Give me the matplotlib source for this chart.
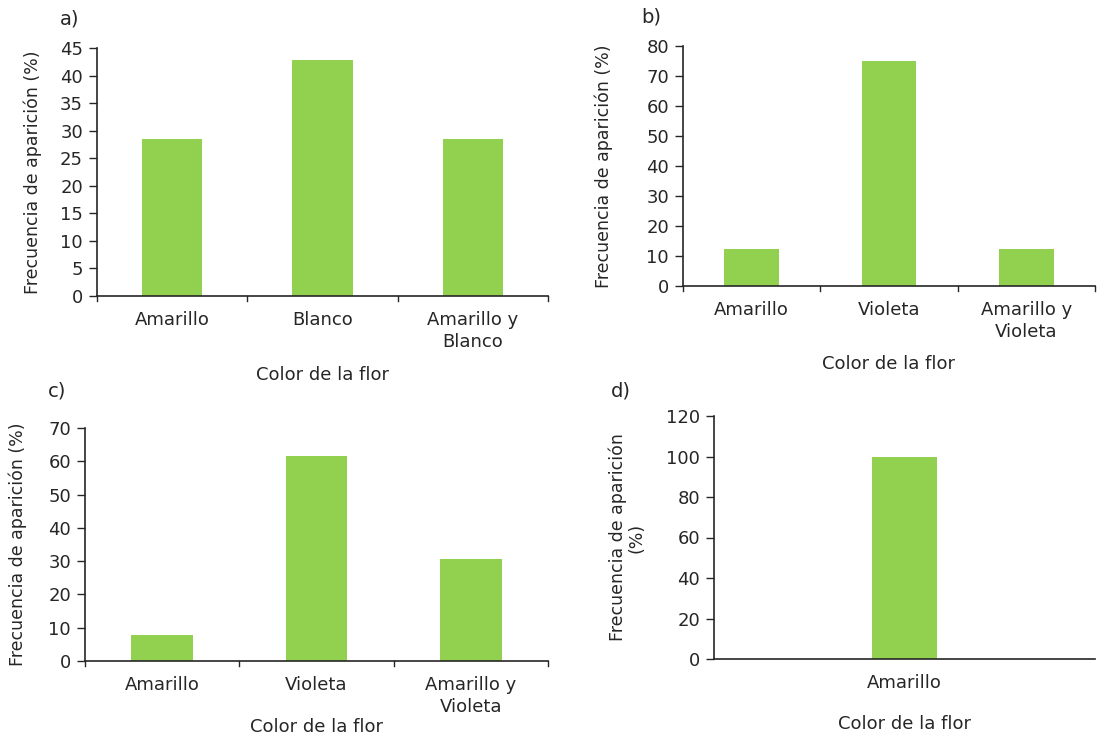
import matplotlib
matplotlib.use("Agg")
import matplotlib.pyplot as plt

W, H = 1099, 738

cats_a = ["Amarillo", "Blanco", "Amarillo y\nBlanco"]
vals_a = [28.57, 42.86, 28.57]
cats_b = ["Amarillo", "Violeta", "Amarillo y\nVioleta"]
vals_b = [12.5, 75.0, 12.5]
cats_c = ["Amarillo", "Violeta", "Amarillo y\nVioleta"]
vals_c = [7.69, 61.54, 30.77]
cats_d = ["Amarillo"]
vals_d = [100.0]

GREEN = "#92D050"
TXT = "#262626"
FS = 13

plt.rcParams['font.family'] = ['DejaVu Sans']

fig = plt.figure(figsize=(W / 100, H / 100), dpi=100)


def px_axes(x0, y0, x1, y1):
    return fig.add_axes([x0 / W, 1 - y1 / H, (x1 - x0) / W, (y1 - y0) / H])


def panel(rect, cats, vals, ymax, ystep, width, letter, letter_xy, ylabel, ylab_x, xlab_y, xticks=True):
    ax = px_axes(*rect)
    n = len(cats)
    x = list(range(n))
    ax.bar(x, vals, width=width, color=GREEN, zorder=2)
    ax.set_xlim(-0.5, n - 0.5)
    ax.set_ylim(0, ymax)
    ax.set_yticks(list(range(0, ymax + 1, ystep)))
    ax.tick_params(axis='y', direction='out', length=6, width=1, colors=TXT, labelsize=FS, pad=4)
    ax.set_xticks(x)
    ax.set_xticklabels(cats, fontsize=FS, color=TXT, linespacing=1.3)
    ax.tick_params(axis='x', length=0, pad=11)
    if xticks:
        for b in [i - 0.5 for i in range(n + 1)]:
            ax.plot([b, b], [0, -0.022 * ymax], color=TXT, lw=1, clip_on=False, zorder=3)
    for s in ['top', 'right']:
        ax.spines[s].set_visible(False)
    for s in ['left', 'bottom']:
        ax.spines[s].set_color(TXT)
        ax.spines[s].set_linewidth(1.2)
    fig.text(letter_xy[0] / W, 1 - letter_xy[1] / H, letter, fontsize=FS + 1, color=TXT, ha='left', va='center')
    fig.text(ylab_x / W, 1 - ((rect[1] + rect[3]) / 2) / H, ylabel, rotation=90, fontsize=FS - 0.5,
             color=TXT, ha='center', va='center', linespacing=1.0)
    fig.text(((rect[0] + rect[2]) / 2) / W, 1 - xlab_y / H, "Color de la flor", fontsize=FS,
             color=TXT, ha='center', va='center')
    return ax


panel((97, 48, 548, 296), cats_a, vals_a, 45, 5, 0.4, "a)", (60, 19),
      "Frecuencia de aparición (%)", 33, 375)
panel((683, 46, 1095, 286), cats_b, vals_b, 80, 10, 0.4, "b)", (641, 17),
      "Frecuencia de aparición (%)", 604, 364)
panel((85, 428, 548, 661), cats_c, vals_c, 70, 10, 0.4, "c)", (48, 391),
      "Frecuencia de aparición (%)", 18, 727)
panel((714, 416, 1095, 659), cats_d, vals_d, 120, 20, 0.17, "d)", (611, 391),
      "Frecuencia de aparición\n(%)", 627, 724, xticks=False)

fig.savefig("out.png", dpi=100, facecolor="white")
